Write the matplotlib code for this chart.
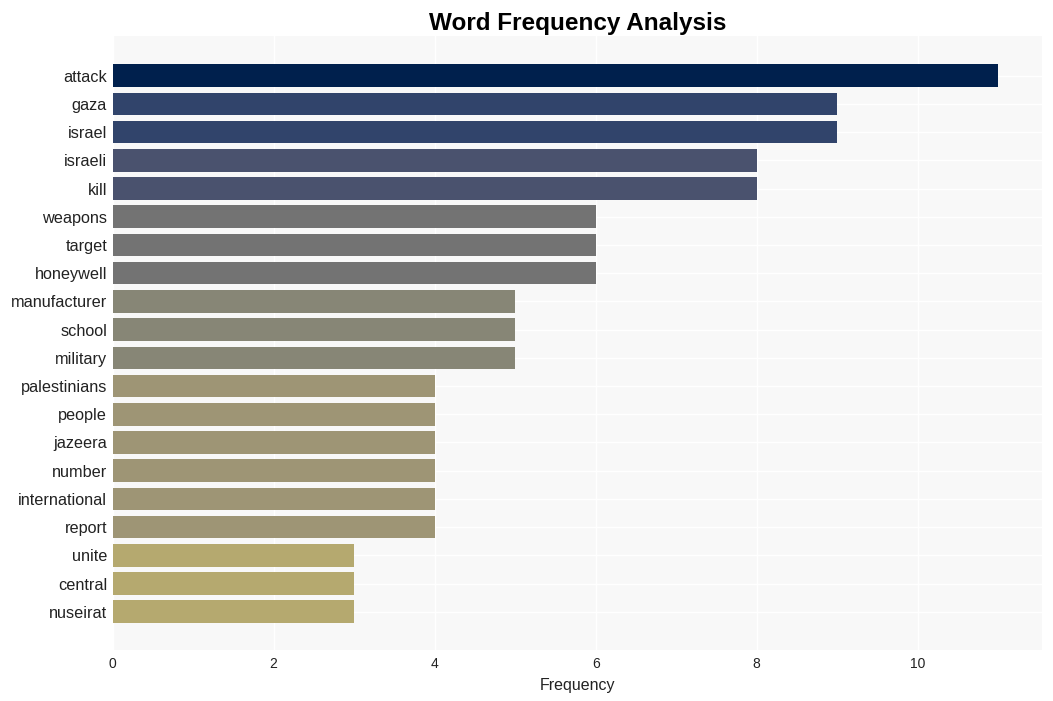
import matplotlib
matplotlib.use("Agg")
import matplotlib.pyplot as plt

plt.rcParams["font.family"] = ["Liberation Sans", "DejaVu Sans"]

# ----------------------------
# Data
# ----------------------------
words = ["attack", "gaza", "israel", "israeli", "kill", "weapons", "target",
         "honeywell", "manufacturer", "school", "military", "palestinians",
         "people", "jazeera", "number", "international", "report", "unite",
         "central", "nuseirat"]
counts = [11, 9, 9, 8, 8, 6, 6, 6, 5, 5, 5, 4, 4, 4, 4, 4, 4, 3, 3, 3]

# colour per frequency level
level_colors = {11: "#00204d", 9: "#31446b", 8: "#4a526e", 6: "#737373",
                5: "#878676", 4: "#9e9575", 3: "#b5a96f"}
colors = [level_colors[c] for c in counts]

# ----------------------------
# Plot
# ----------------------------
fig, ax = plt.subplots(figsize=(10.53, 7.01), dpi=100)
fig.subplots_adjust(left=0.107, right=0.99, top=0.948, bottom=0.073)

ax.set_facecolor("#f8f8f8")
ypos = list(range(len(words)))
ax.barh(ypos, counts, height=0.8, color=colors, zorder=3)

ax.set_yticks(ypos)
ax.set_yticklabels(words, fontsize=11.7, color="#222222")
ax.set_ylim(len(words) - 1 + 1.35, -1.39)
ax.set_xlim(0, max(counts) * 1.05)
ax.set_xticks(range(0, 12, 2))
ax.tick_params(axis="x", labelsize=10, colors="#222222", length=0, pad=5)
ax.tick_params(axis="y", length=0, pad=4)

ax.grid(True, color="white", linewidth=1, zorder=0)
ax.set_axisbelow(True)
for s in ax.spines.values():
    s.set_visible(False)

ax.set_xlabel("Frequency", fontsize=11.5, color="#222222", labelpad=5)
ax.set_title("Word Frequency Analysis", fontsize=17.5, fontweight="bold", pad=5)

fig.savefig("out.png", dpi=100)
plt.close(fig)
